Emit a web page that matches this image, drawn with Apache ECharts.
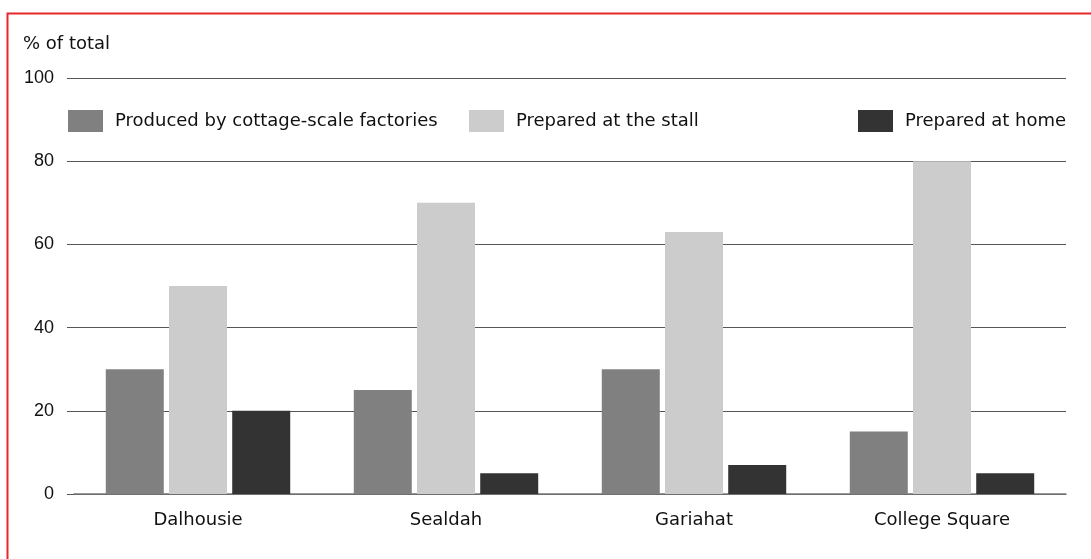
<!DOCTYPE html>
<html>
<head>
<meta charset="utf-8">
<script src="https://cdn.jsdelivr.net/npm/echarts@6/dist/echarts.min.js"></script>
<style>html,body{margin:0;padding:0;background:#fff}#c{width:1091px;height:559px}</style>
</head>
<body>
<div id="c"></div>
<script>
const categories = ['Dalhousie', 'Sealdah', 'Gariahat', 'College Square'];
const factories = [30, 25, 30, 15];
const stall = [50, 70, 63, 80];
const home = [20, 5, 7, 5];
const yTicks = [0, 20, 40, 60, 80, 100];
const seriesNames = ['Produced by cottage-scale factories', 'Prepared at the stall', 'Prepared at home'];

const font = '"DejaVu Sans", Arial, sans-serif';
const numFont = '"Liberation Sans", Arial, sans-serif';
const chart = echarts.init(document.getElementById('c'));
const legendBase = {
  orient: 'horizontal', top: 105, itemWidth: 35, itemHeight: 22, icon: 'rect',
  textStyle: { fontFamily: font, fontSize: 18, color: '#111', padding: [0, 0, 0, 7] },
  selectedMode: false
};
chart.setOption({
  animation: false,
  title: { text: '% of total', left: 18, top: 30, textStyle: { fontFamily: font, fontSize: 18, fontWeight: 'normal', color: '#111' } },
  legend: [
    Object.assign({}, legendBase, { left: 63, data: [seriesNames[0]] }),
    Object.assign({}, legendBase, { left: 464, data: [seriesNames[1]] }),
    Object.assign({}, legendBase, { left: 853, data: [seriesNames[2]] })
  ],
  grid: { left: 74, right: 25, top: 78, bottom: 65, containLabel: false },
  xAxis: {
    type: 'category', data: categories,
    axisLine: { lineStyle: { color: '#777', width: 1.5 } },
    axisTick: { show: false },
    axisLabel: { fontFamily: font, fontSize: 18, color: '#111', margin: 17 }
  },
  yAxis: {
    type: 'value', min: yTicks[0], max: yTicks[yTicks.length - 1], interval: 20,
    axisLine: { show: false },
    axisTick: { show: true, length: 7, lineStyle: { color: '#555' } },
    splitLine: { lineStyle: { color: '#555', width: 1 } },
    axisLabel: { fontFamily: numFont, fontSize: 18, color: '#111', margin: 20, padding: [2, 0, 0, 0] }
  },
  series: [
    { name: seriesNames[0], type: 'bar', data: factories, barWidth: 58, barGap: '9%', itemStyle: { color: '#808080' } },
    { name: seriesNames[1], type: 'bar', data: stall, barWidth: 58, barGap: '9%', itemStyle: { color: '#cccccc' } },
    { name: seriesNames[2], type: 'bar', data: home, barWidth: 58, barGap: '9%', itemStyle: { color: '#333333' } }
  ],
  graphic: [{
    type: 'rect', left: 5, top: 11, silent: true,
    shape: { x: 0, y: 0, width: 1200, height: 700 },
    style: { fill: 'none', stroke: '#e8262c', lineWidth: 2 }
  }]
});
</script>
</body>
</html>
